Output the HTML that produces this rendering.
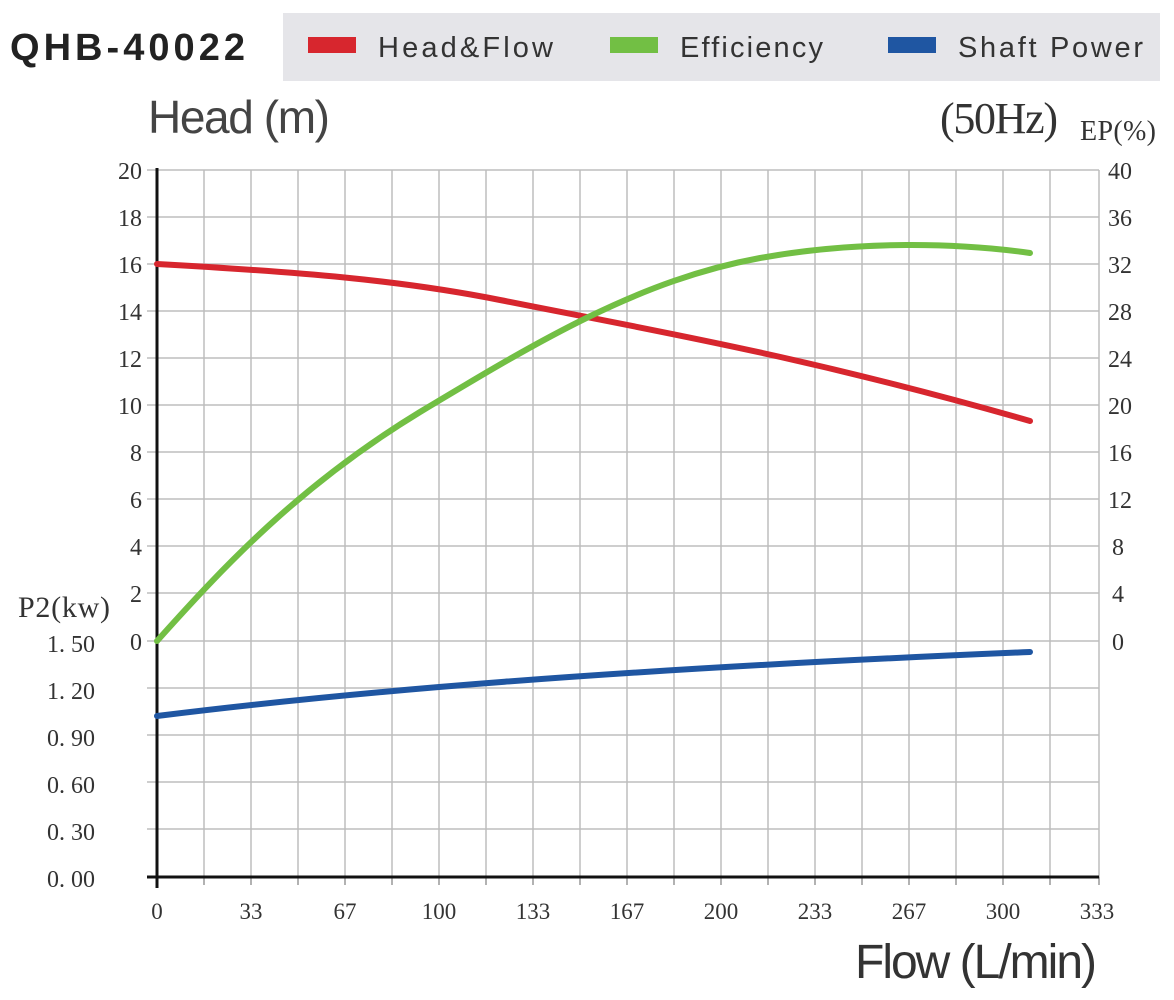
<!DOCTYPE html>
<html><head><meta charset="utf-8"><style>
body{margin:0;background:#fff;}
svg{display:block}
</style></head><body>
<svg width="1174" height="1000" xmlns="http://www.w3.org/2000/svg">
<rect width="1174" height="1000" fill="#fff"/>
<text x="10" y="60" font-family="Liberation Sans, sans-serif" font-weight="bold" font-size="38" fill="#222" textLength="235">QHB-40022</text>
<rect x="283" y="13" width="877" height="68" fill="#e5e5e9"/>
<rect x="308" y="37" width="48" height="16" fill="#d7262e"/>
<text x="378" y="57" font-family="Liberation Sans, sans-serif" font-size="29" fill="#333" textLength="175">Head&amp;Flow</text>
<rect x="610" y="37" width="48" height="16" fill="#72bf44"/>
<text x="680" y="57" font-family="Liberation Sans, sans-serif" font-size="29" fill="#333" textLength="143">Efficiency</text>
<rect x="888" y="37" width="48" height="16" fill="#1f56a2"/>
<text x="958" y="57" font-family="Liberation Sans, sans-serif" font-size="29" fill="#333" textLength="185">Shaft Power</text>
<text x="148" y="133" font-family="Liberation Sans, sans-serif" font-size="46" fill="#444" textLength="182">Head (m)</text>
<text x="940" y="133" font-family="Liberation Serif, serif" font-size="44" fill="#333" textLength="118">(50Hz)</text>
<text x="1080" y="140" font-family="Liberation Serif, serif" font-size="28" fill="#333" textLength="76">EP(%)</text>
<text x="18" y="617" font-family="Liberation Serif, serif" font-size="30" fill="#333" textLength="92">P2(kw)</text>
<text x="855" y="978" font-family="Liberation Sans, sans-serif" font-size="48" fill="#333" textLength="242">Flow (L/min)</text>
<g stroke="#bdbdbd" stroke-width="1.5">
<path d="M204 170V877M251 170V877M298 170V877M345 170V877M392 170V877M439 170V877M486 170V877M533 170V877M580 170V877M627 170V877M674 170V877M721 170V877M768 170V877M815 170V877M862 170V877M909 170V877M956 170V877M1003 170V877M1050 170V877M1099 170V877"/>
<path d="M147 170H1099M147 217H1099M147 264H1099M147 311H1099M147 358H1099M147 405H1099M147 452H1099M147 499H1099M147 546H1099M147 593H1099M147 641H1099M147 688H1099M147 735H1099M147 782H1099M147 829H1099"/>
</g>
<g stroke="#999" stroke-width="1.5">
<path d="M204 877v8M251 877v8M298 877v8M345 877v8M392 877v8M439 877v8M486 877v8M533 877v8M580 877v8M627 877v8M674 877v8M721 877v8M768 877v8M815 877v8M862 877v8M909 877v8M956 877v8M1003 877v8M1050 877v8M1099 877v8"/>
</g>
<path d="M157 168V888" stroke="#111" stroke-width="3"/>
<path d="M147 877H1099" stroke="#111" stroke-width="3"/>
<g font-family="Liberation Serif, serif" font-size="24" fill="#333" text-anchor="end">
<text x="142" y="179">20</text><text x="142" y="226">18</text><text x="142" y="273">16</text><text x="142" y="320">14</text><text x="142" y="367">12</text><text x="142" y="414">10</text><text x="142" y="461">8</text><text x="142" y="508">6</text><text x="142" y="555">4</text><text x="142" y="602">2</text><text x="142" y="650">0</text>
<text x="95" y="652">1. 50</text><text x="95" y="699">1. 20</text><text x="95" y="746">0. 90</text><text x="95" y="793">0. 60</text><text x="95" y="840">0. 30</text><text x="95" y="887">0. 00</text>
</g>
<g font-family="Liberation Serif, serif" font-size="24" fill="#333" text-anchor="start">
<text x="1108" y="179">40</text><text x="1108" y="226">36</text><text x="1108" y="273">32</text><text x="1108" y="320">28</text><text x="1108" y="367">24</text><text x="1108" y="414">20</text><text x="1108" y="461">16</text><text x="1108" y="508">12</text><text x="1112" y="555">8</text><text x="1112" y="602">4</text><text x="1112" y="650">0</text>
</g>
<g font-family="Liberation Serif, serif" font-size="23" fill="#333" text-anchor="middle">
<text x="157" y="919">0</text><text x="251" y="919">33</text><text x="345" y="919">67</text><text x="439" y="919">100</text><text x="533" y="919">133</text><text x="627" y="919">167</text><text x="721" y="919">200</text><text x="815" y="919">233</text><text x="909" y="919">267</text><text x="1003" y="919">300</text><text x="1097" y="919">333</text>
</g>
<g fill="none" stroke-width="6" stroke-linecap="round">
<path d="M157 264 C300 272 400 280 500 300 C650 330 800 355 1030 421" stroke="#d7262e"/>
<path d="M157 641 C225 565 300 485 420 412 C540 340 640 280 760 258 C860 240 960 243 1030 253" stroke="#72bf44"/>
<path d="M157 716 C350 692 600 670 1030 652" stroke="#1f56a2"/>
</g>
</svg>
</body></html>
